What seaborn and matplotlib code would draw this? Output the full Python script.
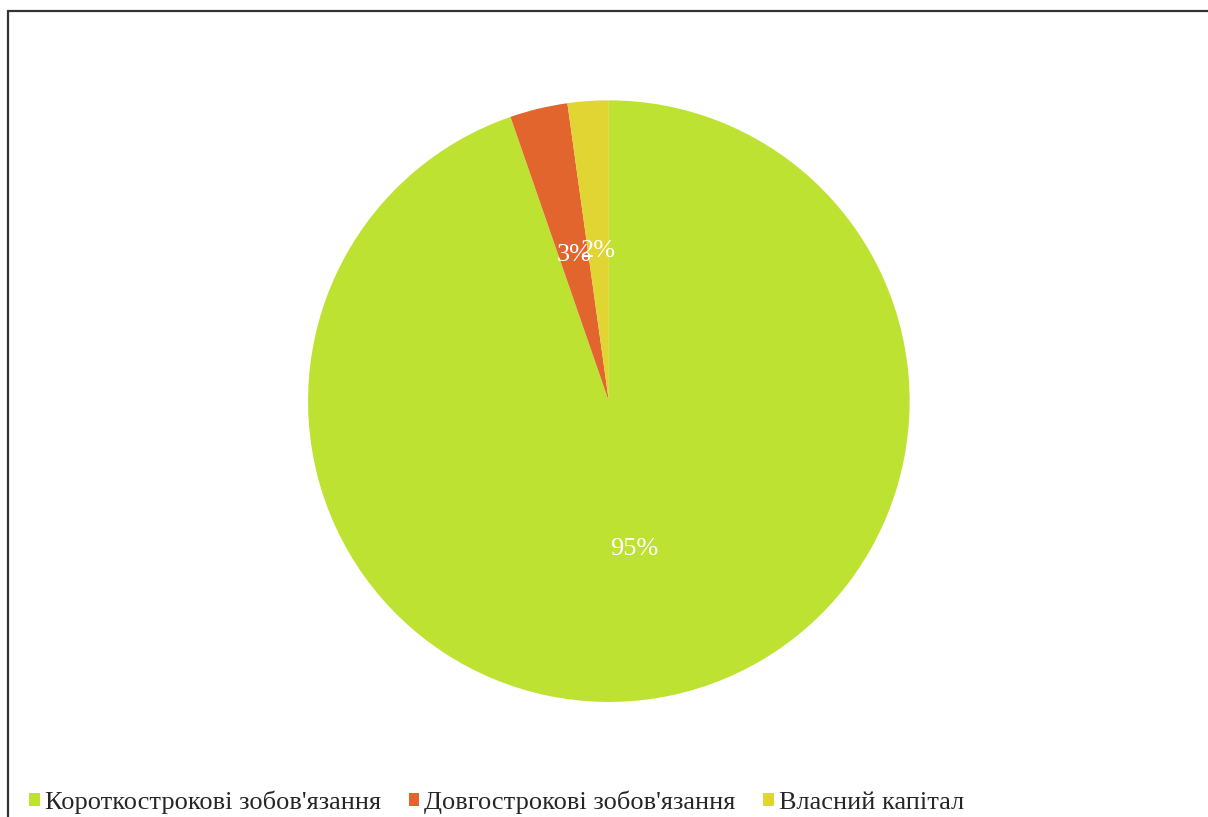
import matplotlib
matplotlib.use('Agg')
import matplotlib.pyplot as plt
from matplotlib.patches import Patch, Rectangle
import numpy as np
import seaborn as sns

labels = ["Короткострокові зобов'язання", "Довгострокові зобов'язання", "Власний капітал"]
shares = [94.7, 3.1, 2.2]
pct_text = ['95%', '3%', '2%']
colors = ['#BEE232', '#E2652D', '#E0D532']

sns.set_style('white')
plt.rcParams['font.family'] = ['Liberation Serif', 'DejaVu Serif']

fig = plt.figure(figsize=(12.08, 8.17), dpi=100)
ax = fig.add_axes([0.255, 0.1405, 0.498, 0.737])

wedges, _ = ax.pie(shares, colors=colors, startangle=90, counterclock=False,
                   wedgeprops=dict(linewidth=0))
# percent labels at half the radius, like the reference
for w, t in zip(wedges, pct_text):
    mid = np.deg2rad((w.theta1 + w.theta2) / 2)
    ax.text(0.5 * np.cos(mid), 0.5 * np.sin(mid), t, ha='center', va='center',
            color='white', fontsize=19)
ax.set_xlim(-1, 1)
ax.set_ylim(-1, 1)
ax.set_aspect('equal')

handles = [Patch(facecolor=c, edgecolor='none') for c in colors]
fig.legend(handles, labels, loc='center left', bbox_to_anchor=(0.0155, 0.018),
           ncol=3, frameon=False, fontsize=19, handlelength=0.4, handleheight=0.4,
           handletextpad=0.18, columnspacing=1.06, borderaxespad=0)

# frame cut off on the right and bottom, as in the reference
fig.patches.append(Rectangle((8 / 1208, -0.1), 1.2, (817 - 11) / 817 + 0.1,
                             transform=fig.transFigure, fill=False,
                             edgecolor='#333333', linewidth=1.6, zorder=10))

fig.savefig('out.png', dpi=100)
